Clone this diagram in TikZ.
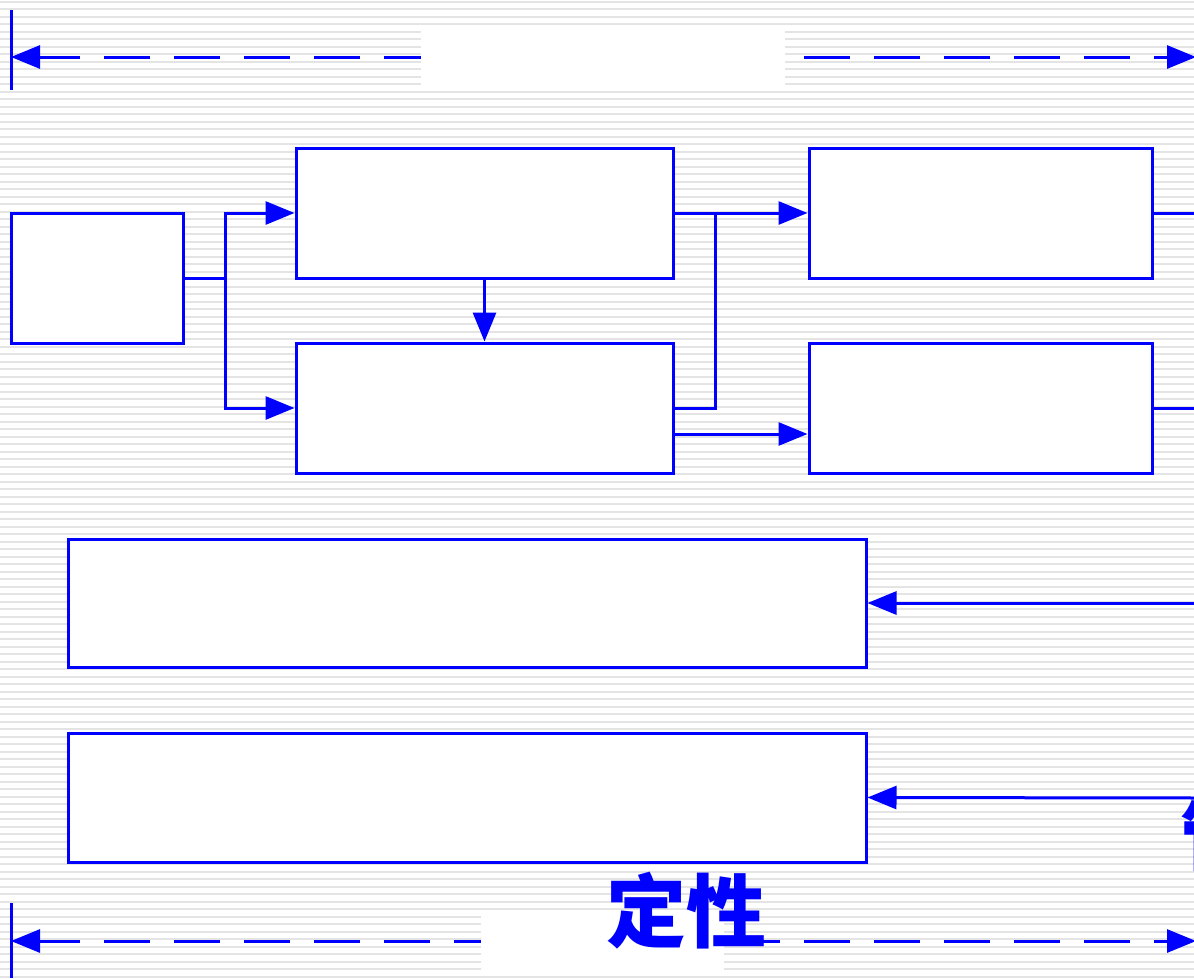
\documentclass[tikz,border=0pt]{standalone}
\usepackage{fontspec}
\newfontfamily\cjk{Noto Sans CJK SC}
\usetikzlibrary{arrows.meta}
\definecolor{lineblue}{RGB}{0,0,255}
\definecolor{stripe}{RGB}{228,228,228}
\tikzset{
  box/.style={draw=lineblue, line width=3pt, fill=white, inner sep=0pt, rectangle},
  conn/.style={draw=lineblue, line width=3pt},
  arr/.style={conn, -{Triangle[length=29pt,width=23pt]}},
  dimline/.style={draw=lineblue, line width=3pt, dash pattern=on 46pt off 24pt, dash phase=5pt,
     {Triangle[length=29pt,width=23pt]}-{Triangle[length=29pt,width=23pt]}},
  ticks/.style={draw=lineblue, line width=3pt},
  blank/.style={fill=white, draw=none, inner sep=0pt},
  bigtext/.style={text=lineblue, font=\cjk\fontsize{80}{80}\selectfont, inner sep=0pt},
}
\begin{document}
\begin{tikzpicture}[x=1pt,y=-1pt]
\useasboundingbox (0,0) rectangle (1194,978);
\fill[white] (0,0) rectangle (1194,978);
% striped background
\foreach \k in {0,...,130} {
  \fill[stripe] (0,{7.5*\k+0.5}) rectangle (1194,{7.5*\k+2.5});
}
% top dimension
\coordinate (tl) at (11,57);
\coordinate (tr) at (1196,57);
\coordinate (tlt) at (11,10);
\coordinate (tlb) at (11,90);
\draw[ticks] (tlt) -- (tlb);
\draw[dimline] (tl) -- (tr);
\node[blank, minimum width=364pt, minimum height=58pt] (topgap) at (603,56) {};
% bottom dimension
\coordinate (bl) at (11,941);
\coordinate (br) at (1196,941);
\coordinate (blt) at (11,903);
\coordinate (blb) at (11,978);
\draw[ticks] (blt) -- (blb);
\draw[dimline] (bl) -- (br);
\node[blank, minimum width=243pt, minimum height=57pt] (botgap) at (602.5,941.5) {};
\node[bigtext] (qual) at (686,911) {\textbf{定性}};
% boxes
\node[box, minimum width=172pt, minimum height=130pt] (A) at (97,278) {};
\node[box, minimum width=377pt, minimum height=130pt] (B) at (484.5,213) {};
\node[box, minimum width=377pt, minimum height=130pt] (C) at (484.5,408) {};
\node[box, minimum width=343pt, minimum height=130pt] (D) at (980.5,213) {};
\node[box, minimum width=343pt, minimum height=130pt] (E) at (980.5,408) {};
\node[box, minimum width=798pt, minimum height=128pt] (F) at (467,603) {};
\node[box, minimum width=798pt, minimum height=129pt] (G) at (467,797.5) {};
% connectors
\coordinate (j1) at (225,278);
\draw[conn] (A.east) -- (j1);
\draw[arr] (j1) |- (B.west);
\draw[arr] (j1) |- (C.west);
\draw[arr] (B.south) -- (C.north);
\draw[arr] (B.east) -- (D.west);
\coordinate (j2) at (715,213);
\draw[conn] (C.east) -| (j2);
\coordinate (c2) at (673,434);
\draw[arr] (c2) -- (c2 -| D.west);
\coordinate (dout) at (1200,213);
\coordinate (eout) at (1200,408);
\draw[conn] (D.east) -- (dout);
\draw[conn] (E.east) -- (eout);
\coordinate (fin) at (1200,603);
\coordinate (gin) at (1200,798);
\draw[arr] (fin) -- (F.east);
\draw[arr] (gin) -- (G.east);
% clipped text at right edge
\node[bigtext, anchor=west, font=\cjk\fontsize{74}{74}\selectfont] (cut) at (1180,836) {\textbf{管理}};
\end{tikzpicture}
\end{document}
